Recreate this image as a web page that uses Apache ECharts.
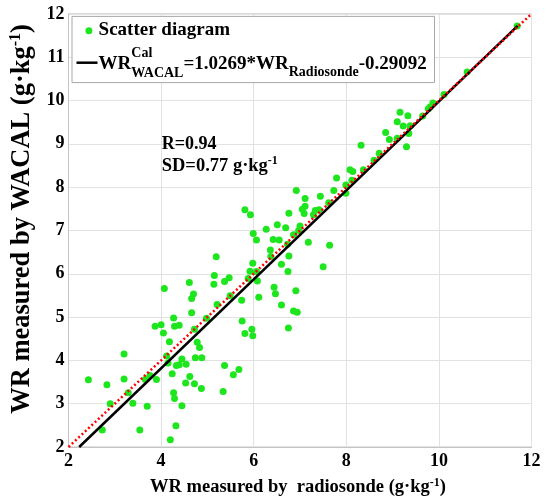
<!DOCTYPE html>
<html><head><meta charset="utf-8">
<script src="https://cdn.jsdelivr.net/npm/echarts@6/dist/echarts.min.js"></script>
<style>html,body{margin:0;padding:0;background:#fff}#c{width:547px;height:502px}</style>
</head><body><div id="c"></div>
<script>
// ---- data ----
const radiosondeWR = [2.43,2.73,2.83,2.90,3.20,3.20,3.29,3.39,3.54,3.70,3.66,3.76,3.87,3.90,4.00,4.07,4.05,4.12,4.15,4.18,
  4.20,4.24,4.27,4.29,4.39,4.27,4.29,4.32,4.33,4.39,4.45,4.45,4.54,4.53,4.62,4.61,4.66,4.70,4.66,4.72,
  4.78,4.83,4.74,4.88,4.72,4.87,5.19,5.15,5.14,5.37,5.47,5.21,4.98,5.49,5.74,5.75,5.81,5.96,5.98,5.37,
  5.56,5.68,5.34,5.81,5.93,5.99,6.06,5.98,5.92,6.06,5.88,6.08,6.11,6.27,6.51,6.69,6.42,6.55,6.36,6.37,
  6.76,6.92,6.73,6.76,6.60,6.74,6.44,6.47,6.91,6.60,6.86,6.94,6.75,7.11,7.00,6.97,6.86,7.11,7.05,7.09,
  7.33,7.41,7.29,7.18,7.44,7.62,7.50,7.64,7.79,7.73,7.99,7.99,8.08,8.14,8.12,8.37,8.32,8.60,8.71,8.85,
  8.93,9.10,9.10,9.16,9.23,9.33,9.38,9.35,9.30,9.65,9.77,9.81,9.87,10.11,10.61,11.69];
const wacalWR = [3.55,2.39,3.44,3.00,4.15,3.57,3.25,3.01,2.39,2.94,3.56,3.65,4.79,3.56,4.82,5.66,4.63,4.10,3.94,4.43,
  2.17,3.69,4.98,4.79,4.81,3.25,3.12,2.49,3.88,3.90,4.03,2.95,3.91,3.48,3.63,5.80,5.43,5.53,5.10,4.72,
  4.42,4.30,4.06,4.06,3.46,3.35,6.39,5.96,5.76,5.82,5.91,5.29,4.97,5.49,5.39,4.91,4.62,4.72,4.57,3.88,
  3.67,3.79,3.28,7.48,7.36,6.93,6.78,6.24,6.06,6.05,5.89,5.83,5.46,7.03,7.13,7.06,6.79,6.78,6.55,6.40,
  7.40,7.92,6.68,6.41,6.22,6.05,5.69,5.54,5.61,5.28,5.14,5.11,4.75,7.74,7.10,7.00,6.90,7.56,7.49,7.39,
  7.46,7.48,7.36,6.73,7.79,7.64,6.16,6.66,8.21,7.92,8.05,7.86,8.40,8.36,8.16,8.40,8.97,8.62,8.78,9.26,
  9.10,9.13,9.51,9.73,9.41,9.65,9.42,9.24,8.93,9.64,9.81,9.85,9.94,10.14,10.66,11.72];
const fitSlope = 1.0269;
const fitIntercept = -0.29092;
const fitXEnd = 11.7;
const oneToOneRange = [2, 12];
const statR = 0.94;
const statSD = 0.77;

// ---- chart ----
const FF = '"Liberation Serif","Times New Roman",serif';
const GREEN = '#1ee61e';
const chart = echarts.init(document.getElementById('c'), null, {renderer: 'canvas'});

const scatterData = radiosondeWR.map((x, i) => [x, wacalWR[i]]);
const fitStartX = (oneToOneRange[0] - fitIntercept) / fitSlope;
const fitData = [fitStartX, fitXEnd].map(x => [x, fitSlope * x + fitIntercept]);
const oneData = oneToOneRange.map(v => [v, v]);

const mctx = document.createElement('canvas').getContext('2d');
function tw(t, size) { mctx.font = 'bold ' + size + 'px ' + FF; return mctx.measureText(t).width; }

function txt(t, x, y, size, extra) {
  return Object.assign({type: 'text', z: 101, style: {text: t, x: x, y: y, font: 'bold ' + size + 'px ' + FF,
    fill: '#000', align: 'left', verticalAlign: 'middle'}}, extra || {});
}

// legend line 2 layout
const MAIN = 19, SUB = 14;
const yMain = 63.6, ySup = 53, ySub = 73;
let lx = 98.6;
const leg = [];
leg.push(txt('WR', lx, yMain, MAIN)); lx += tw('WR', MAIN);
leg.push(txt('Cal', lx, ySup, SUB));
leg.push(txt('WACAL', lx, ySub, SUB)); lx += Math.max(tw('Cal', SUB), tw('WACAL', SUB));
const eqMid = '=' + fitSlope.toFixed(4) + '*WR';
leg.push(txt(eqMid, lx, yMain, MAIN)); lx += tw(eqMid, MAIN);
leg.push(txt('Radiosonde', lx, ySub - 1, SUB)); lx += tw('Radiosonde', SUB);
const eqEnd = (fitIntercept < 0 ? '-' : '+') + Math.abs(fitIntercept).toFixed(5);
leg.push(txt(eqEnd, lx, yMain, MAIN));

// stats text
const sdBase = 'SD=' + statSD.toFixed(2) + ' g\u00b7kg';
const stats = [
  txt('R=' + statR.toFixed(2), 161.7, 144.2, 18),
  txt(sdBase, 161.7, 166.7, 18.5),
  txt('-1', 161.7 + tw(sdBase, 18.5), 160.5, 12)
];

const option = {
  animation: false,
  backgroundColor: '#fff',
  grid: {left: 68.5, right: 15.5, top: 13.9, bottom: 52.7, show: true, borderColor: '#c4c4c4', borderWidth: 1, backgroundColor: 'transparent'},
  xAxis: {
    type: 'value', min: 2, max: 12, interval: 2,
    name: 'WR measured by  radiosonde (g\u00b7kg{sup|-1})',
    nameLocation: 'middle', nameGap: 30,
    nameTextStyle: {fontFamily: FF, fontWeight: 'bold', fontSize: 18.5, color: '#000', padding: [0, 4, 0, 0],
      rich: {sup: {fontFamily: FF, fontWeight: 'bold', fontSize: 12, color: '#000', padding: [0, 0, 9, 0]}}},
    axisLine: {show: true, lineStyle: {color: '#c4c4c4'}},
    axisTick: {show: false},
    axisLabel: {fontFamily: FF, fontWeight: 'bold', fontSize: 18, color: '#000', margin: 5},
    splitLine: {show: true, lineStyle: {color: '#e2e2e2'}}
  },
  yAxis: {
    type: 'value', min: 2, max: 12, interval: 1,
    name: 'WR measured by WACAL (g\u00b7kg{sup|-1})',
    nameLocation: 'middle', nameGap: 14, nameRotate: 90,
    nameTextStyle: {fontFamily: FF, fontWeight: 'bold', fontSize: 26.5, color: '#000', padding: [0, 0, 0, 23],
      rich: {sup: {fontFamily: FF, fontWeight: 'bold', fontSize: 16, color: '#000', padding: [0, 0, 12, 0]}}},
    axisLine: {show: true, lineStyle: {color: '#c4c4c4'}},
    axisTick: {show: false},
    axisLabel: {fontFamily: FF, fontWeight: 'bold', fontSize: 18, color: '#000', margin: 4},
    splitLine: {show: true, lineStyle: {color: '#e2e2e2'}}
  },
  series: [
    {name: 'Scatter diagram', type: 'scatter', data: scatterData, symbol: 'circle', symbolSize: 7,
      itemStyle: {color: GREEN, opacity: 1}, z: 2},
    {name: 'Fit', type: 'line', data: fitData, showSymbol: false, symbol: 'none',
      lineStyle: {color: '#000', width: 2.5}, z: 3},
    {name: '1:1', type: 'line', data: oneData, showSymbol: false, symbol: 'none',
      lineStyle: {color: '#ff0000', width: 2.5, type: [2, 2.5]}, z: 4}
  ],
  graphic: [
    {type: 'rect', z: 100, shape: {x: 72, y: 16.4, width: 362.5, height: 66.2},
      style: {fill: '#fff', stroke: '#a8a8a8', lineWidth: 1}},
    {type: 'circle', z: 101, shape: {cx: 88.9, cy: 30.7, r: 3.5}, style: {fill: GREEN}},
    txt('Scatter diagram', 98.6, 30.5, MAIN),
    {type: 'line', z: 101, shape: {x1: 76.5, y1: 62.7, x2: 97.5, y2: 62.7}, style: {stroke: '#000', lineWidth: 2.5}}
  ].concat(leg).concat(stats)
};
chart.setOption(option);
</script>
</body></html>
